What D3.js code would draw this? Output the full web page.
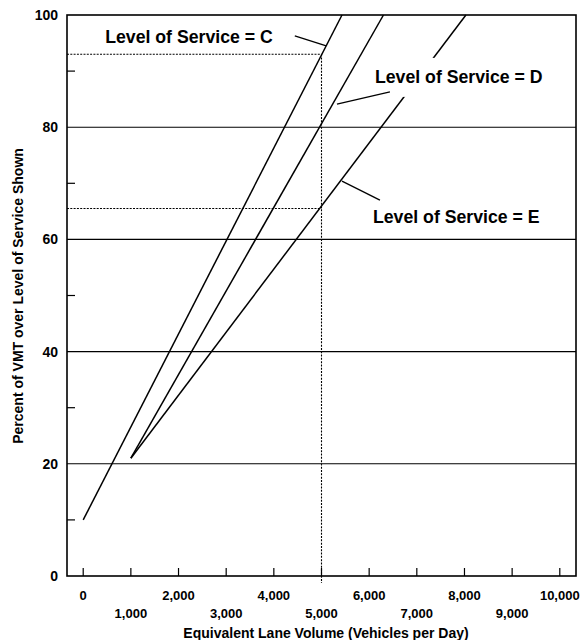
<!DOCTYPE html>
<html>
<head>
<meta charset="utf-8">
<script src="https://cdn.jsdelivr.net/npm/d3@7"></script>
<style>
  html, body { margin: 0; padding: 0; background: #fff; }
  svg { display: block; font-family: "Liberation Sans", Arial, Helvetica, sans-serif; }
</style>
</head>
<body>
<svg id="chart" width="582" height="640"></svg>
<script>
// ---- data ----
const losNames   = ["C", "D", "E"];
const startVol   = [0, 1000, 1000];
const startPct   = [10, 21, 21];
const endVol     = [5430, 6300, 8030];
const endPct     = [100, 100, 100];

const xTickValues   = [0, 1000, 2000, 3000, 4000, 5000, 6000, 7000, 8000, 9000, 10000];
const yTickValues   = [0, 20, 40, 60, 80, 100];
const yMinorValues  = [10, 30, 50, 70, 90];
const gridValues    = [20, 40, 60, 80];

const refVolume = 5000;
const refLevels = [93, 65.5];

// annotation anchors (data units)
const labelVol   = [461, 6122, 6080];
const labelPct   = [95.0, 87.9, 62.9];
const leaderFromVol = [4440, 6436, 6226];
const leaderFromPct = [96.3, 86.3, 67.0];
const leaderToVol   = [5100, 5325, 5430];
const leaderToPct   = [94.5, 84.1, 70.4];

// ---- layout ----
const svg = d3.select("#chart");
const pLeft = 67, pRight = 576, pTop = 15, pBottom = 576;

const x = d3.scaleLinear().domain([-340, 10340]).range([pLeft, pRight]);
const y = d3.scaleLinear().domain([0, 100]).range([pBottom, pTop]);

// gridlines
svg.append("g").selectAll("line").data(gridValues).join("line")
  .attr("x1", pLeft).attr("x2", pRight)
  .attr("y1", d => y(d)).attr("y2", d => y(d))
  .attr("stroke", "#000").attr("stroke-width", 1.1);

// reference dotted lines
const dotted = svg.append("g").attr("stroke", "#000").attr("stroke-width", 1.1)
  .attr("stroke-dasharray", "2,1.3");
dotted.append("line")
  .attr("x1", x(refVolume)).attr("x2", x(refVolume))
  .attr("y1", y(d3.max(refLevels))).attr("y2", pBottom + 7);
dotted.selectAll(".h").data(refLevels).join("line").attr("class", "h")
  .attr("x1", pLeft).attr("x2", x(refVolume))
  .attr("y1", d => y(d)).attr("y2", d => y(d));

// minor y ticks (inward)
svg.append("g").selectAll("line").data(yMinorValues).join("line")
  .attr("x1", pLeft).attr("x2", pLeft + 8)
  .attr("y1", d => y(d)).attr("y2", d => y(d))
  .attr("stroke", "#000").attr("stroke-width", 1.2);

// x ticks (inward)
svg.append("g").selectAll("line").data(xTickValues).join("line")
  .attr("x1", d => x(d)).attr("x2", d => x(d))
  .attr("y1", pBottom).attr("y2", pBottom - 8)
  .attr("stroke", "#000").attr("stroke-width", 1.2);

// LOS lines
const lineGen = d3.line().x(d => x(d[0])).y(d => y(d[1]));
svg.append("g").selectAll("path").data(losNames.map((n, i) => [[startVol[i], startPct[i]], [endVol[i], endPct[i]]]))
  .join("path")
  .attr("d", lineGen)
  .attr("fill", "none").attr("stroke", "#000").attr("stroke-width", 1.5);

// frame
svg.append("rect")
  .attr("x", pLeft).attr("y", pTop)
  .attr("width", pRight - pLeft).attr("height", pBottom - pTop)
  .attr("fill", "none").attr("stroke", "#000").attr("stroke-width", 1.6);

// labels
const labelG = svg.append("g");
losNames.forEach((n, i) => {
  const t = labelG.append("text")
    .attr("x", x(labelVol[i])).attr("y", y(labelPct[i]))
    .attr("font-size", 17.7).attr("font-weight", "bold")
    .text("Level of Service = " + n);
  if (n === "D") {
    const bb = t.node().getBBox();
    labelG.insert("rect", "text")
      .attr("x", bb.x - 6).attr("y", y(labelPct[i]) - 25)
      .attr("width", bb.width + 10).attr("height", 39)
      .attr("fill", "#fff");
  }
  labelG.append("line")
    .attr("x1", x(leaderFromVol[i])).attr("y1", y(leaderFromPct[i]))
    .attr("x2", x(leaderToVol[i])).attr("y2", y(leaderToPct[i]))
    .attr("stroke", "#000").attr("stroke-width", 1.3);
});

// y tick labels
svg.append("g").selectAll("text").data(yTickValues).join("text")
  .attr("x", 58).attr("y", d => y(d)).attr("dy", "0.35em")
  .attr("text-anchor", "end").attr("font-size", 14).attr("font-weight", "bold")
  .text(d => d);

// x tick labels (staggered)
const fmt = d3.format(",");
svg.append("g").selectAll("text").data(xTickValues).join("text")
  .attr("x", d => x(d))
  .attr("y", (d, i) => i % 2 === 0 ? 600 : 618)
  .attr("text-anchor", "middle").attr("font-size", 13).attr("font-weight", "bold")
  .text(d => fmt(d));

// axis titles
svg.append("text")
  .attr("x", 326).attr("y", 638)
  .attr("text-anchor", "middle").attr("font-size", 14).attr("font-weight", "bold")
  .text("Equivalent Lane Volume (Vehicles per Day)");

svg.append("text")
  .attr("transform", "translate(23,296) rotate(-90)")
  .attr("text-anchor", "middle").attr("font-size", 14).attr("font-weight", "bold")
  .text("Percent of VMT over Level of Service Shown");
</script>
</body>
</html>
